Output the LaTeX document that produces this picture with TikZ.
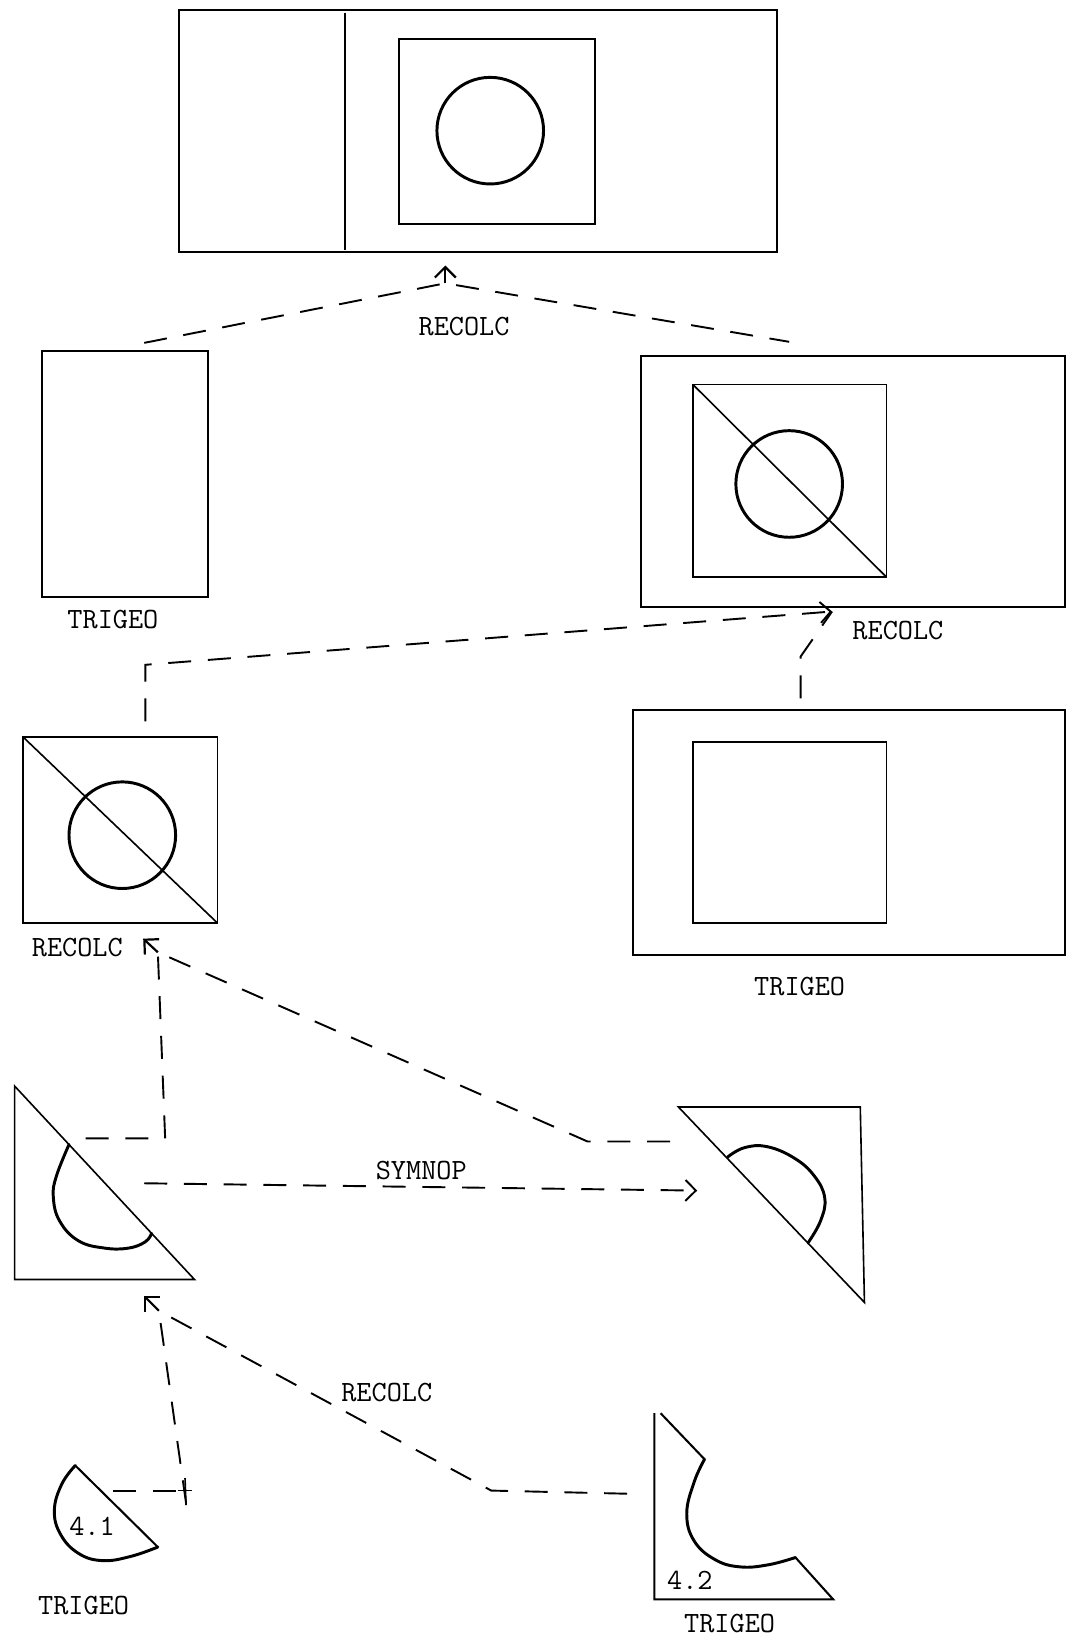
\documentclass[tikz,border=0pt]{standalone}
\usetikzlibrary{arrows.meta}
\begin{document}
\begin{tikzpicture}[x=0.025cm, y=-0.025cm,
    outline/.style={line width=1.4pt},
    stroke/.style={line width=1.1pt},
    blob/.style={line width=2pt, line join=round, line cap=round},
    link/.style={line width=1.3pt, dash pattern=on 5.5mm off 4mm},
    arr/.style={link, -{Straight Barb[length=2.5mm,width=5mm]}},
    tip/.style={line width=1.5pt, -{Straight Barb[length=2.5mm,width=5mm]}},
    lbl/.style={font=\fontsize{20}{24}\selectfont\ttfamily, inner sep=0pt}
]
    \useasboundingbox (0,0) rectangle (1023,1568);

    \draw[outline] (171,10) rectangle (743,241);
    \draw[outline] (330,12) -- (330,239);
    \draw[outline] (382,37) rectangle (569,214);
    \draw[blob] (469,125) circle [radius=51];

    \draw[outline] (40,336) rectangle (199,571);
    \node[lbl] (trigeoL) at (108,593) {TRIGEO};

    \draw[outline] (613,341) rectangle (1019,581);
    \draw[stroke] (663,368) rectangle (848,552);
    \draw[stroke] (663,368) -- (848,552);
    \draw[blob] (755,463) circle [radius=51];
    \node[lbl] (recolcR) at (859,603) {RECOLC};

    \node[lbl] (recolcTop) at (444,312) {RECOLC};
    \coordinate (hub) at (426,271);
    \coordinate (hubtip) at (426,254);
    \coordinate (fromL) at (138,328);
    \coordinate (fromR) at (755,327);
    \draw[link] (fromL) -- (hub) -- (fromR);
    \draw[tip] (hub) -- (hubtip);

    \draw[stroke] (22,705) rectangle (208,883);
    \draw[stroke] (22,705) -- (208,883);
    \draw[blob] (117,799) circle [radius=51];
    \node[lbl] (recolcM) at (74,906) {RECOLC};

    \draw[outline] (606,679) rectangle (1019,914);
    \draw[stroke] (663,710) rectangle (848,883);
    \node[lbl] (trigeoM) at (765,944) {TRIGEO};

    \coordinate (midTip) at (796,585);
    \coordinate (midA) at (139,690);
    \coordinate (midA2) at (139,636);
    \coordinate (midB) at (766,668);
    \coordinate (midB2) at (766,628);
    \draw[arr] (midA) -- (midA2) -- (midTip);
    \draw[link] (midB) -- (midB2) -- (midTip);

    \draw[stroke] (14,1039) -- (14,1224) -- (186,1224) -- cycle;
    \draw[blob] plot[smooth, tension=0.7] coordinates {(66,1095) (54,1125) (51,1145) (57,1168) (75,1187) (100,1194) (123,1194) (139,1188) (145,1180)};

    \draw[stroke] (827,1246) -- (823,1059) -- (649,1059) -- cycle;
    \draw[blob] plot[smooth, tension=0.7] coordinates {(696,1107) (712,1098) (734,1097) (760,1108) (779,1125) (789,1146) (785,1168) (773,1189)};

    \coordinate (recTip) at (137,898);
    \coordinate (recStem) at (151,911);
    \coordinate (vertL) at (82,1089);
    \coordinate (vertL2) at (158,1089);
    \coordinate (diagR) at (641,1092);
    \coordinate (diagR2) at (562,1092);
    \draw[link] (vertL) -- (vertL2) -- (recStem);
    \draw[link] (diagR) -- (diagR2) -- (recStem);
    \draw[tip] (recStem) -- (recTip);

    \node[lbl] (symnop) at (403,1120) {SYMNOP};
    \coordinate (symA) at (138,1132);
    \coordinate (symB) at (667,1139);
    \draw[arr] (symA) -- (symB);

    \draw[outline] (72,1402) -- (151,1480);
    \draw[blob] plot[smooth, tension=0.7] coordinates {(72,1402) (59,1420) (52,1445) (58,1468) (75,1486) (98,1493) (125,1489) (151,1480)};
    \node[lbl] (num41) at (88,1460) {4.1};
    \node[lbl] (trigeo41) at (80,1536) {TRIGEO};

    \draw[outline] (674,1396) -- (632,1352);
    \draw[outline] (626,1352) -- (626,1530) -- (797,1530) -- (761,1490);
    \draw[blob] plot[smooth, tension=0.7] coordinates {(674,1396) (664,1418) (657,1448) (664,1474) (684,1492) (708,1499) (735,1497) (761,1490)};
    \node[lbl] (num42) at (660,1512) {4.2};
    \node[lbl] (trigeo42) at (698,1553) {TRIGEO};

    \node[lbl] (recolcD) at (370,1332) {RECOLC};
    \coordinate (lowTip) at (138,1240);
    \coordinate (lowStem) at (152,1254);
    \coordinate (cross) at (177,1426);
    \coordinate (crossL) at (108,1426);
    \coordinate (crossLow) at (178,1438);
    \coordinate (bend) at (470,1426);
    \coordinate (fromR42) at (600,1429);
    \draw[link] (crossL) -- (cross);
    \draw[link] (crossLow) -- (lowStem);
    \draw[link] (fromR42) -- (bend) -- (lowStem);
    \draw[stroke] (170,1426) -- (184,1426);
    \draw[stroke] (177,1414) -- (178,1440);
    \draw[tip] (lowStem) -- (lowTip);
\end{tikzpicture}
\end{document}
